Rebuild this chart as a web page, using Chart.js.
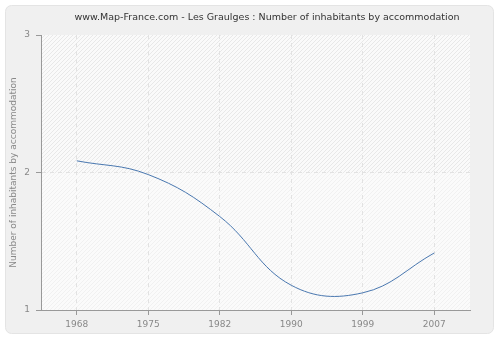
<!DOCTYPE html>
<html><head><meta charset="utf-8">
<script src="https://cdn.jsdelivr.net/npm/chart.js@4/dist/chart.umd.min.js"></script>
<style>html,body{margin:0;padding:0;background:#fff}#w{width:500px;height:340px}</style>
</head><body><div id="w"><canvas id="c" width="500" height="340"></canvas></div>
<script>
const titleText = "www.Map-France.com - Les Graulges : Number of inhabitants by accommodation";
const yTitle = "Number of inhabitants by accommodation";
const years = ["1968","1975","1982","1990","1999","2007"];
const values = [2.085, 1.985, 1.68, 1.18, 1.125, 1.415];
const yTicks = [1, 2, 3];
const FONT = '"DejaVu Sans", Verdana, sans-serif';

function hatch(bg, line){
  const n = 4;
  const p = document.createElement('canvas'); p.width = n; p.height = n;
  const g = p.getContext('2d');
  g.fillStyle = bg; g.fillRect(0,0,n,n);
  g.fillStyle = line;
  for (let i = 0; i < n; i++) g.fillRect(n-1-i, i, 1, 1);
  return g.createPattern(p,'repeat');
}

const bgPlugin = {
  id:'bg',
  beforeDraw(chart){
    const ctx = chart.ctx, a = chart.chartArea, y = chart.scales.y;
    ctx.save();
    ctx.fillStyle = '#ffffff'; ctx.fillRect(0,0,500,340);
    ctx.beginPath();
    ctx.roundRect(5.5,5.5,488,328,6);
    ctx.fillStyle = '#f0f0f0'; ctx.fill();
    ctx.strokeStyle = '#e4e4e4'; ctx.lineWidth = 1; ctx.stroke();
    const y2 = Math.round(y.getPixelForValue(2));
    ctx.fillStyle = hatch('#fafafa', '#e8e8e8');
    ctx.fillRect(a.left, a.top, a.right-a.left, y2-a.top);
    ctx.fillStyle = hatch('#fbfbfb', '#f1f1f1');
    ctx.fillRect(a.left, y2, a.right-a.left, a.bottom-y2);
    ctx.fillStyle = '#333';
    ctx.font = '9.5px ' + FONT;
    ctx.textAlign = 'center'; ctx.textBaseline = 'middle';
    ctx.fillText(titleText, 267, 18);
    ctx.restore();
  }
};

new Chart(document.getElementById('c'), {
  type:'line',
  data:{ labels: years, datasets:[{ data: values, borderColor:'#4a78b0', borderWidth:1, pointRadius:0, tension:0.4, fill:false }]},
  options:{
    responsive:false, animation:false, devicePixelRatio:1,
    layout:{ padding:{ left:0, right:30, top:35, bottom:0 } },
    plugins:{ legend:{display:false}, tooltip:{enabled:false}, title:{display:false} },
    scales:{
      x:{
        type:'category', offset:true,
        afterFit(s){ s.height = 30; },
        grid:{ color:'#e2e2e2', tickBorderDash:[], tickColor:'#999', tickLength:5, offset:false, drawOnChartArea:true },
        border:{ color:'#999', width:1, dash:[4,4] },
        ticks:{ color:'#888', font:{ size:9, family:FONT }, padding:4, maxRotation:0 }
      },
      y:{
        min:1, max:3,
        afterFit(s){ s.width = 41; },
        afterBuildTicks(s){ s.ticks = yTicks.map(v=>({value:v})); },
        grid:{ color:(c)=> c.tick && c.tick.value===2 ? '#e2e2e2' : 'rgba(0,0,0,0)', tickBorderDash:[], tickColor:'#999', tickLength:5 },
        border:{ color:'#999', width:1, dash:[4,4] },
        ticks:{ color:'#888', font:{ size:9, family:FONT }, padding:6 },
        title:{ display:true, text:yTitle, color:'#888', font:{ size:9, family:FONT }, padding:{top:8,bottom:0} }
      }
    }
  },
  plugins:[bgPlugin]
});
</script></body></html>
